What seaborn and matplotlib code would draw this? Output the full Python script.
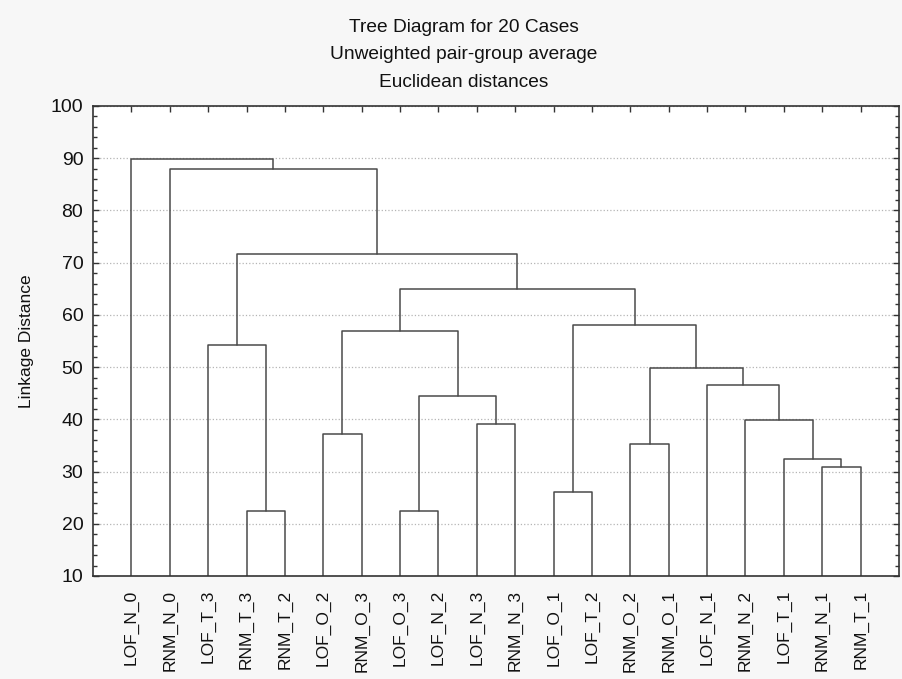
import matplotlib
matplotlib.use("Agg")
import matplotlib.pyplot as plt
import matplotlib.ticker as ticker
import numpy as np
import pandas as pd
import seaborn as sns

# leaf order as shown on the x axis
leaves = ["LOF_N_0", "RNM_N_0", "LOF_T_3", "RNM_T_3", "RNM_T_2", "LOF_O_2", "RNM_O_3",
          "LOF_O_3", "LOF_N_2", "LOF_N_3", "RNM_N_3", "LOF_O_1", "LOF_T_2", "RNM_O_2",
          "RNM_O_1", "LOF_N_1", "RNM_N_2", "LOF_T_1", "RNM_N_1", "RNM_T_1"]

# joins: cluster c<i> = merge_left[i] + merge_right[i] at merge_height[i]
merge_left = ["RNM_T_3", "LOF_O_3", "LOF_O_1", "RNM_N_1", "LOF_T_1", "RNM_O_2", "LOF_O_2",
              "LOF_N_3", "RNM_N_2", "c1", "LOF_N_1", "c5", "LOF_T_3", "c6", "c2", "c13",
              "c12", "RNM_N_0", "LOF_N_0"]
merge_right = ["RNM_T_2", "LOF_N_2", "LOF_T_2", "RNM_T_1", "c3", "RNM_O_1", "RNM_O_3",
               "RNM_N_3", "c4", "c7", "c8", "c10", "c0", "c9", "c11", "c14", "c15",
               "c16", "c17"]
merge_height = [22.4, 22.4, 26.1, 30.9, 32.4, 35.2, 37.1, 39.1, 39.8, 44.5, 46.5, 49.8,
                54.3, 57.0, 58.0, 65.0, 71.6, 87.9, 89.8]

titles = ["Tree Diagram for 20 Cases", "Unweighted pair-group average", "Euclidean distances"]

sns.set_style("white")
plt.rcParams['font.family'] = ['Liberation Sans', 'DejaVu Sans']
plt.rcParams['text.color'] = '#111111'
plt.rcParams['axes.labelcolor'] = '#111111'
plt.rcParams['xtick.color'] = '#111111'
plt.rcParams['ytick.color'] = '#111111'

# node positions: leaves at 1..20, clusters at the middle of their children
pos = {name: (i + 1.0, 0.0) for i, name in enumerate(leaves)}
rows = []
for i in range(len(merge_height)):
    xl, yl = pos[merge_left[i]]
    xr, yr = pos[merge_right[i]]
    h = merge_height[i]
    for px, py in [(xl, yl), (xl, h), (xr, h), (xr, yr)]:
        rows.append({"link": i, "x": px, "y": py})
    pos["c%d" % i] = ((xl + xr) / 2.0, h)
df = pd.DataFrame(rows)

fig = plt.figure(figsize=(9.02, 6.79), dpi=100)
fig.patch.set_facecolor('#f7f7f7')
ax = fig.add_axes([0.1031, 0.1517, 0.8936, 0.6922])
ax.set_facecolor('white')

sns.lineplot(data=df, x="x", y="y", units="link", estimator=None, sort=False,
             color='#4a4a4a', linewidth=1.1, legend=False, ax=ax)

ax.set_xlim(0, 21)
ax.set_ylim(10, 100)
ax.set_xticks(np.arange(1, len(leaves) + 1))
ax.set_xticklabels(leaves, rotation=90, fontsize=12.5)
ax.tick_params(axis='x', bottom=False, top=True, direction='in', length=4,
               width=1, color='#333333', labelbottom=True, pad=10)
ax.yaxis.set_major_locator(ticker.MultipleLocator(10))
ax.yaxis.set_minor_locator(ticker.MultipleLocator(2))
ax.tick_params(axis='y', which='major', left=True, right=True, direction='in',
               length=4, width=1, color='#333333', labelsize=14, pad=7)
ax.tick_params(axis='y', which='minor', left=True, right=True, direction='in',
               length=3, width=1, color='#333333')
ax.yaxis.grid(True, which='major', linestyle=':', color='#b5b5b5', linewidth=0.9)
ax.xaxis.grid(False)
for s in ax.spines.values():
    s.set_color('#333333')
    s.set_linewidth(1.2)

ax.set_xlabel("")
ax.set_ylabel("Linkage Distance", fontsize=12.5, labelpad=12)

for k, t in enumerate(titles):
    fig.text(0.514, 0.960 - k * 0.0405, t, ha='center', va='center', fontsize=13.8)

fig.savefig("out.png", dpi=100, facecolor=fig.get_facecolor())
